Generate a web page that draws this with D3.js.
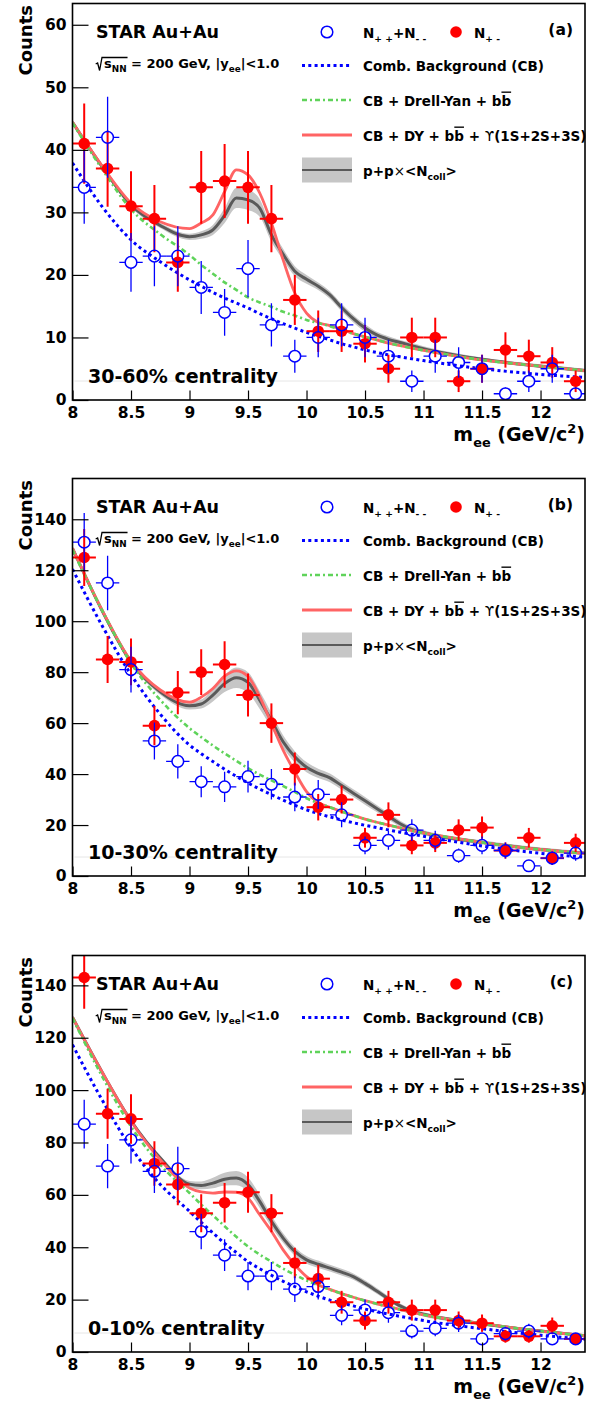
<!DOCTYPE html>
<html>
<head>
<meta charset="utf-8">
<script src="https://cdn.jsdelivr.net/npm/d3@7"></script>
<style>
  body { margin: 0; background: #fff; }
  svg text { font-family: "DejaVu Sans", sans-serif; font-weight: bold; fill: #000; }
</style>
</head>
<body>
<svg id="chart" width="599" height="1402"></svg>
<script>
// bin centres, m_ee in GeV/c^2 (bins are 0.2 wide)
var massBins = [8.1, 8.3, 8.5, 8.7, 8.9, 9.1, 9.3, 9.5, 9.7, 9.9, 10.1, 10.3, 10.5, 10.7, 10.9, 11.1, 11.3, 11.5, 11.7, 11.9, 12.1, 12.3];
var xTicks = [8, 8.5, 9, 9.5, 10, 10.5, 11, 11.5, 12];

// counts: N+- (unlike sign) and N++ + N-- (like sign)
var unlikeA = [41, 37, 31, 29, 22, 34, 35, 34, 29, 16, 11, 11, 9, 5, 10, 10, 3, 5, 8, 7, 6, 3];
var likeA   = [34, 42, 22, 23, 23, 18, 14, 21, 12, 7, 10, 12, 10, 7, 3, 7, 6, 5, 1, 3, 5, 1];
var unlikeB = [125, 85, 84, 59, 72, 80, 83, 71, 60, 42, 27, 30, 15, 24, 12, 13, 18, 19, 10, 15, 7, 13];
var likeB   = [131, 115, 81, 53, 45, 37, 35, 39, 36, 31, 32, 24, 12, 14, 18, 14, 8, 12, 10, 4, 7, 9];
var unlikeC = [143, 91, 89, 72, 64, 53, 57, 61, 53, 34, 28, 19, 12, 19, 16, 16, 12, 11, 6, 6, 10, 5];
var likeC   = [87, 71, 81, 69, 70, 46, 37, 29, 29, 24, 25, 14, 16, 15, 8, 9, 11, 5, 7, 8, 5, 5];

var curveMass = [8.0, 8.25, 8.5, 8.75, 9.0, 9.1, 9.2, 9.3, 9.4, 9.5, 9.6, 9.7, 9.8, 9.9, 10.0, 10.1, 10.2, 10.3, 10.4, 10.5, 10.6, 10.7, 10.8, 10.9, 11.0, 11.5, 12.0, 12.38];

var combBgA = [37.9, 31.0, 25.6, 22.1, 19.2, 18.2, 17.2, 16.3, 15.5, 14.7, 13.8, 13.0, 12.2, 11.5, 10.8, 10.2, 9.6, 9.0, 8.5, 8.0, 7.6, 7.2, 6.9, 6.6, 6.3, 5.0, 4.1, 3.6];
var dyBbA   = [44.3, 37.0, 30.5, 26.5, 23.2, 21.6, 20.2, 18.8, 17.6, 16.4, 15.6, 14.9, 14.1, 13.5, 12.8, 12.3, 11.8, 11.2, 10.6, 10.1, 9.6, 9.1, 8.7, 8.3, 7.95, 6.4, 5.4, 4.7];
var upsA    = [44.4, 37.5, 31.5, 28.5, 27.4, 28.3, 29.6, 33.3, 36.8, 36.0, 33.1, 28.3, 22.4, 17.1, 13.9, 12.4, 11.9, 11.3, 10.6, 10.1, 9.6, 9.1, 8.7, 8.3, 7.95, 6.4, 5.4, 4.7];
var ppA     = [44.4, 37.4, 31.2, 27.9, 26.1, 26.4, 27.2, 29.5, 32.3, 32.0, 30.7, 26.4, 23.3, 20.6, 19.3, 18.2, 16.8, 14.8, 13.0, 11.5, 10.4, 9.7, 9.2, 8.7, 8.2, 6.5, 5.4, 4.7];
var ppErrA  = [0.4, 0.4, 0.4, 0.4, 0.5, 0.6, 0.8, 1.2, 1.6, 1.6, 1.4, 1.1, 0.9, 0.8, 0.7, 0.6, 0.6, 0.6, 0.6, 0.6, 0.5, 0.5, 0.4, 0.4, 0.4, 0.3, 0.3, 0.3];

var combBgB = [120.4, 98.5, 79.0, 63.5, 51.4, 48.0, 44.9, 41.9, 39.1, 36.5, 34.1, 31.9, 29.8, 27.8, 26.0, 24.5, 23.2, 22.0, 20.9, 19.9, 19.0, 18.1, 17.2, 16.4, 15.6, 11.8, 8.9, 7.4];
var dyBbB   = [128.0, 104.5, 83.5, 69.1, 58.0, 54.5, 51.2, 48.1, 45.2, 42.3, 39.8, 37.5, 35.3, 33.0, 30.5, 28.6, 27.0, 25.3, 23.8, 22.3, 21.1, 20.0, 18.9, 17.8, 16.9, 13.2, 10.4, 8.9];
var upsB    = [128.6, 104.6, 84.3, 73.0, 68.2, 70.2, 73.6, 78.4, 80.5, 78.3, 70.4, 59.9, 49.4, 40.8, 33.1, 28.8, 27.0, 25.3, 23.8, 22.3, 21.1, 20.0, 18.9, 17.8, 16.9, 13.2, 10.4, 8.9];
var ppB     = [128.6, 104.4, 84.0, 72.3, 66.8, 67.5, 71.0, 75.5, 77.8, 76.0, 69.0, 61.0, 52.7, 46.8, 42.7, 40.3, 38.5, 35.5, 32.5, 29.5, 26.5, 23.5, 20.5, 18.3, 17.0, 13.2, 10.4, 8.9];
var ppErrB  = [1.0, 1.0, 1.0, 1.2, 1.5, 1.8, 2.5, 3.3, 4.0, 4.0, 3.5, 3.0, 2.5, 2.2, 2.0, 1.8, 1.7, 1.6, 1.5, 1.5, 1.4, 1.3, 1.2, 1.1, 1.0, 0.8, 0.8, 0.8];

var combBgC = [117.3, 96.5, 78.0, 64.0, 53.7, 49.5, 45.5, 41.5, 38.0, 34.5, 31.8, 29.3, 27.0, 25.0, 23.0, 21.3, 19.8, 18.7, 17.6, 16.4, 15.4, 14.5, 13.6, 12.8, 12.0, 8.9, 6.4, 4.9];
var dyBbC   = [127.5, 105.5, 86.1, 71.5, 60.7, 56.3, 52.2, 48.0, 44.0, 40.3, 37.2, 34.5, 31.8, 29.5, 27.3, 25.5, 23.8, 22.3, 20.9, 19.6, 18.4, 17.3, 16.2, 15.2, 14.2, 10.8, 8.0, 6.2];
var upsC    = [127.8, 107.1, 88.1, 73.4, 62.6, 61.1, 60.7, 61.1, 61.0, 58.8, 52.4, 46.1, 39.0, 33.3, 28.8, 25.7, 23.9, 22.3, 20.9, 19.6, 18.4, 17.3, 16.2, 15.2, 14.2, 10.8, 8.0, 6.2];
var ppC     = [127.8, 107.1, 88.3, 74.1, 64.1, 63.6, 64.5, 66.0, 66.4, 63.9, 57.5, 49.9, 43.5, 38.4, 35.2, 33.5, 32.0, 30.5, 28.8, 26.2, 23.3, 20.3, 17.6, 15.6, 14.4, 10.8, 8.0, 6.2];
var ppErrC  = [0.8, 0.8, 0.8, 0.9, 1.2, 1.5, 2.0, 2.4, 2.7, 2.7, 2.5, 2.2, 1.8, 1.6, 1.5, 1.4, 1.3, 1.3, 1.2, 1.2, 1.1, 1.0, 0.9, 0.8, 0.8, 0.6, 0.6, 0.6];

var svg = d3.select("#chart");
var x = d3.scaleLinear().domain([8, 12.38]).range([72.5, 585]);
var halfBin = 0.1, mr = 5.8;

var panels = [
  { tag: "(a)", cent: "30-60% centrality", top: 3.5, bottom: 400, yMax: 63.4, yStep: 10, yMinor: 2,
    unlike: unlikeA, like: likeA, cb: combBgA, dy: dyBbA, ups: upsA, pp: ppA, ppErr: ppErrA },
  { tag: "(b)", cent: "10-30% centrality", top: 478.5, bottom: 876, yMax: 156, yStep: 20, yMinor: 5,
    unlike: unlikeB, like: likeB, cb: combBgB, dy: dyBbB, ups: upsB, pp: ppB, ppErr: ppErrB },
  { tag: "(c)", cent: "0-10% centrality", top: 955.5, bottom: 1352, yMax: 151.4, yStep: 20, yMinor: 5,
    unlike: unlikeC, like: likeC, cb: combBgC, dy: dyBbC, ups: upsC, pp: ppC, ppErr: ppErrC }
];

// text with sub/superscripts; kinds: sub, sup, over (overlined), thin
function rich(t, parts, fs) {
  var cur = 0;
  parts.forEach(function(pt) {
    var kind = pt[1] || "";
    var shift = kind === "sub" ? fs * 0.32 : kind === "sup" ? -fs * 0.42 : 0;
    var s = t.append("tspan").text(pt[0]).attr("dy", shift - cur);
    cur = shift;
    if (kind === "sub" || kind === "sup") s.attr("font-size", fs * 0.68);
    if (kind === "over") s.attr("text-decoration", "overline");
    if (kind === "thin") s.style("font-weight", "normal");
  });
  return t;
}

panels.forEach(function(p, i) {
  var y = d3.scaleLinear().domain([0, p.yMax]).range([p.bottom, p.top]);
  var g = svg.append("g");
  var x0 = x.range()[0], x1 = x.range()[1];

  svg.append("clipPath").attr("id", "clip" + i).append("rect")
    .attr("x", x0).attr("y", p.top).attr("width", x1 - x0).attr("height", p.bottom - p.top);

  // faint edge of the centrality box
  g.append("line")
    .attr("x1", x0 + 2).attr("x2", x1).attr("y1", p.bottom - 19).attr("y2", p.bottom - 19)
    .attr("stroke", "#e6e6e6").attr("stroke-width", 1);

  var plot = g.append("g").attr("clip-path", "url(#clip" + i + ")");

  var rows = curveMass.map(function(m, k) {
    return { m: m, cb: p.cb[k], dy: p.dy[k], ups: p.ups[k], pp: p.pp[k], e: p.ppErr[k] };
  });
  function line(key) {
    return d3.line().curve(d3.curveMonotoneX)
      .x(function(d) { return x(d.m); })
      .y(function(d) { return y(d[key]); });
  }

  plot.append("path").datum(rows)
    .attr("d", d3.area().curve(d3.curveMonotoneX)
      .x(function(d) { return x(d.m); })
      .y0(function(d) { return y(d.pp - d.e); })
      .y1(function(d) { return y(d.pp + d.e); }))
    .attr("fill", "#c6c6c6");
  plot.append("path").datum(rows).attr("d", line("pp"))
    .attr("fill", "none").attr("stroke", "#5a5a5a").attr("stroke-width", 3);
  plot.append("path").datum(rows).attr("d", line("ups"))
    .attr("fill", "none").attr("stroke", "#ff6464").attr("stroke-width", 2.8);
  plot.append("path").datum(rows).attr("d", line("dy"))
    .attr("fill", "none").attr("stroke", "#5fd35a").attr("stroke-width", 2.6)
    .attr("stroke-dasharray", "5,3,2,3");
  plot.append("path").datum(rows).attr("d", line("cb"))
    .attr("fill", "none").attr("stroke", "#0000ff").attr("stroke-width", 3)
    .attr("stroke-dasharray", "3,3.3");

  // N+- : filled red points, errors sqrt(N)
  var red = plot.append("g").selectAll("g")
    .data(massBins.map(function(m, k) { return { m: m, v: p.unlike[k] }; }))
    .enter().append("g");
  red.append("line")
    .attr("x1", function(d) { return x(d.m - halfBin); })
    .attr("x2", function(d) { return x(d.m + halfBin); })
    .attr("y1", function(d) { return y(d.v); })
    .attr("y2", function(d) { return y(d.v); })
    .attr("stroke", "#ff0000").attr("stroke-width", 2);
  red.append("line")
    .attr("x1", function(d) { return x(d.m); })
    .attr("x2", function(d) { return x(d.m); })
    .attr("y1", function(d) { return y(d.v + Math.sqrt(d.v)); })
    .attr("y2", function(d) { return y(d.v - Math.sqrt(d.v)); })
    .attr("stroke", "#ff0000").attr("stroke-width", 2);
  red.append("circle")
    .attr("cx", function(d) { return x(d.m); })
    .attr("cy", function(d) { return y(d.v); })
    .attr("r", mr).attr("fill", "#ff0000");

  // N++ + N-- : open blue circles, bars stop at the marker
  var blue = plot.append("g").selectAll("g")
    .data(massBins.map(function(m, k) { return { m: m, v: p.like[k] }; }))
    .enter().append("g")
    .attr("stroke", "#0000ff").attr("fill", "none");
  blue.append("path")
    .attr("stroke-width", 1.3)
    .attr("d", function(d) {
      var cx = x(d.m), cy = y(d.v), e = Math.sqrt(d.v);
      var s = "M" + x(d.m - halfBin) + "," + cy + "H" + (cx - mr) +
              "M" + (cx + mr) + "," + cy + "H" + x(d.m + halfBin);
      if (y(d.v + e) < cy - mr) s += "M" + cx + "," + (cy - mr) + "V" + y(d.v + e);
      if (y(d.v - e) > cy + mr) s += "M" + cx + "," + (cy + mr) + "V" + y(d.v - e);
      return s;
    });
  blue.append("circle")
    .attr("cx", function(d) { return x(d.m); })
    .attr("cy", function(d) { return y(d.v); })
    .attr("r", mr).attr("stroke-width", 1.5);

  // axes, ticks inside the frame
  var ax = g.append("g").attr("transform", "translate(0," + p.bottom + ")");
  ax.call(d3.axisBottom(x).tickValues(d3.range(80, 124).map(function(v) { return v / 10; }))
    .tickSizeInner(-4.7).tickSizeOuter(0).tickFormat(""));
  ax.call(d3.axisBottom(x).tickValues(xTicks).tickSizeInner(-9.5).tickSizeOuter(0).tickPadding(7)
    .tickFormat(function(d) { return String(d); }));

  var ay = g.append("g").attr("transform", "translate(" + x0 + ",0)");
  ay.call(d3.axisLeft(y).tickValues(d3.range(0, p.yMax, p.yMinor))
    .tickSizeInner(-8).tickSizeOuter(0).tickFormat(""));
  ay.call(d3.axisLeft(y).tickValues(d3.range(0, p.yMax, p.yStep))
    .tickSizeInner(-16).tickSizeOuter(0).tickPadding(6));

  g.selectAll(".domain").remove();
  g.selectAll(".tick line").attr("stroke", "#000").attr("stroke-width", 1.2);
  g.selectAll(".tick text").style("font-size", "15.5px");

  g.append("rect")
    .attr("x", x0).attr("y", p.top).attr("width", x1 - x0).attr("height", p.bottom - p.top)
    .attr("fill", "none").attr("stroke", "#000").attr("stroke-width", 1.6);

  // axis titles
  g.append("text")
    .attr("transform", "translate(32," + (p.top + 1.5) + ") rotate(-90)")
    .attr("text-anchor", "end").style("font-size", "18px").text("Counts");
  rich(g.append("text").attr("x", x1).attr("y", p.bottom + 41)
    .attr("text-anchor", "end").style("font-size", "19px"),
    [["m"], ["ee", "sub"], [" (GeV/c"], ["2", "sup"], [")"]], 19);

  // labels in the frame
  g.append("text").attr("x", 96).attr("y", p.top + 34.5)
    .style("font-size", "17.5px").text("STAR Au+Au");
  var sq = rich(g.append("text").attr("x", 104).attr("y", p.top + 64.5).style("font-size", "13px"),
    [["s"], ["NN", "sub"], [" = 200 GeV, |y"], ["ee", "sub"], ["|<1.0"]], 13);
  var bl = p.top + 64.5;
  var xe = sq.node().getEndPositionOfChar(2).x;
  g.append("path")
    .attr("d", "M95.7," + (bl - 4) + "L97.6," + (bl - 5) + "L99.6," + (bl + 2.5) +
               "L102," + (bl - 10.5) + "L" + (xe + 1) + "," + (bl - 10.5))
    .attr("fill", "none").attr("stroke", "#000").attr("stroke-width", 1.3);

  g.append("text").attr("x", 88).attr("y", p.bottom - 17.5)
    .style("font-size", "19px").text(p.cent);
  g.append("text").attr("x", 573).attr("y", p.top + 31)
    .attr("text-anchor", "end").style("font-size", "15.5px").text(p.tag);

  // legend
  var L = g.append("g").attr("transform", "translate(0," + p.top + ")");
  var fs = 13.5;
  L.append("circle").attr("cx", 327).attr("cy", 28.5).attr("r", mr)
    .attr("fill", "none").attr("stroke", "#0000ff").attr("stroke-width", 1.5);
  rich(L.append("text").attr("x", 363).attr("y", 34).style("font-size", fs + "px"),
    [["N"], ["+ +", "sub"], ["+N"], ["- -", "sub"]], fs);
  L.append("circle").attr("cx", 456).attr("cy", 28.5).attr("r", mr).attr("fill", "#ff0000");
  rich(L.append("text").attr("x", 474).attr("y", 34).style("font-size", fs + "px"),
    [["N"], ["+ -", "sub"]], fs);

  L.append("line").attr("x1", 302).attr("x2", 352).attr("y1", 62).attr("y2", 62)
    .attr("stroke", "#0000ff").attr("stroke-width", 3).attr("stroke-dasharray", "3,3.3");
  L.append("text").attr("x", 363).attr("y", 67.5).style("font-size", fs + "px")
    .text("Comb. Background (CB)");

  L.append("line").attr("x1", 302).attr("x2", 352).attr("y1", 96.5).attr("y2", 96.5)
    .attr("stroke", "#5fd35a").attr("stroke-width", 2.6).attr("stroke-dasharray", "5,3,2,3");
  rich(L.append("text").attr("x", 363).attr("y", 102).style("font-size", fs + "px"),
    [["CB + Drell-Yan + b"], ["b", "over"]], fs);

  L.append("line").attr("x1", 302).attr("x2", 352).attr("y1", 131.5).attr("y2", 131.5)
    .attr("stroke", "#ff6464").attr("stroke-width", 2.8);
  rich(L.append("text").attr("x", 363).attr("y", 137).style("font-size", fs + "px"),
    [["CB + DY + b"], ["b", "over"], [" +  "], ["\u03D2", "thin"], ["(1S+2S+3S)"]], fs);

  L.append("rect").attr("x", 302).attr("y", 154).attr("width", 50).attr("height", 25).attr("fill", "#c6c6c6");
  L.append("line").attr("x1", 302).attr("x2", 352).attr("y1", 166.5).attr("y2", 166.5)
    .attr("stroke", "#5a5a5a").attr("stroke-width", 2);
  rich(L.append("text").attr("x", 363).attr("y", 172).style("font-size", fs + "px"),
    [["p+p"], ["\u00D7", "thin"], ["<N"], ["coll", "sub"], [">"]], fs);
});
</script>
</body>
</html>
